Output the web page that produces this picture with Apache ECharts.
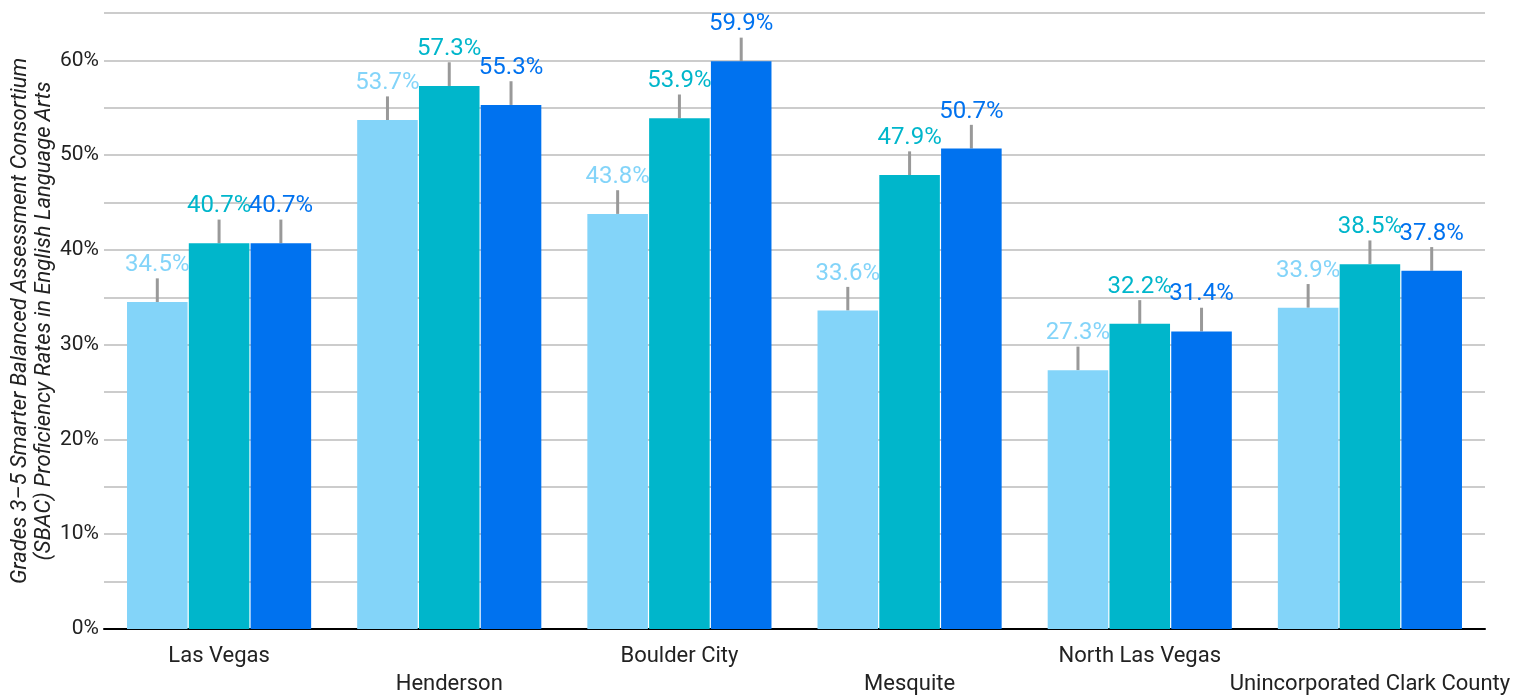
<!DOCTYPE html>
<html>
<head>
<meta charset="utf-8">
<script src="https://cdn.jsdelivr.net/npm/echarts@6/dist/echarts.min.js"></script>
<style>html,body{margin:0;padding:0;background:#fff;}#chart{width:1529px;height:695px;}</style>
</head>
<body>
<div id="chart"></div>
<script>
const categories = ['Las Vegas', 'Henderson', 'Boulder City', 'Mesquite', 'North Las Vegas', 'Unincorporated Clark County'];
const seriesNames = ['Series 1', 'Series 2', 'Series 3'];
const series1 = [34.5, 53.7, 43.8, 33.6, 27.3, 33.9];
const series2 = [40.7, 57.3, 53.9, 47.9, 32.2, 38.5];
const series3 = [40.7, 55.3, 59.9, 50.7, 31.4, 37.8];
const errors1 = [2.5, 2.5, 2.5, 2.5, 2.5, 2.5];
const errors2 = [2.5, 2.5, 2.5, 2.5, 2.5, 2.5];
const errors3 = [2.5, 2.5, 2.5, 2.5, 2.5, 2.5];
const colors = ['#83d4f9', '#00b6cb', '#0072ef'];

const allValues = [series1, series2, series3];
const allErrors = [errors1, errors2, errors3];
const CAT_GAP = 0.2, BAR_GAP = 0.02;
const FONT = 'Roboto, "Noto Sans", sans-serif';

const chart = echarts.init(document.getElementById('chart'));

const barSeries = allValues.map((vals, s) => ({
  name: seriesNames[s],
  type: 'bar',
  data: vals,
  barGap: (BAR_GAP * 100) + '%',
  barCategoryGap: (CAT_GAP * 100) + '%',
  itemStyle: { color: colors[s] },
  z: 2,
  label: {
    show: true,
    position: 'top',
    distance: 25,
    color: colors[s],
    fontFamily: FONT,
    fontSize: 24,
    formatter: p => p.value.toFixed(1) + '%'
  }
}));

const errSeries = allValues.map((vals, s) => ({
  type: 'custom',
  z: 1,
  silent: true,
  data: vals.map((v, i) => [i, v, v + allErrors[s][i]]),
  renderItem: function (params, api) {
    const band = api.size([1, 0])[0];
    const group = band * (1 - CAT_GAP);
    const bw = group / (3 + 2 * BAR_GAP);
    const off = (s - 1) * bw * (1 + BAR_GAP);
    const p0 = api.coord([api.value(0), api.value(1)]);
    const p1 = api.coord([api.value(0), api.value(2)]);
    const x = p0[0] + off;
    return {
      type: 'line',
      shape: { x1: x, y1: p0[1], x2: x, y2: p1[1] },
      style: { stroke: '#999999', lineWidth: 3 }
    };
  }
}));

chart.setOption({
  animation: false,
  backgroundColor: '#ffffff',
  grid: { left: 104, right: 44, top: 13, bottom: 66, containLabel: false, outerBoundsMode: 'none' },
  xAxis: {
    type: 'category',
    data: categories,
    axisLine: { lineStyle: { color: '#000000', width: 2 } },
    axisTick: { show: false },
    axisLabel: {
      interval: 0,
      fontFamily: FONT,
      fontSize: 22,
      color: '#222222',
      margin: 13,
      lineHeight: 28,
      formatter: (v, i) => (i % 2 === 1 ? '\n' + v : v)
    }
  },
  yAxis: {
    type: 'value',
    min: 0,
    max: 65,
    interval: 5,
    name: 'Grades 3\u20135 Smarter Balanced Assessment Consortium\n(SBAC) Proficiency Rates in English Language Arts',
    nameLocation: 'middle',
    nameGap: 48,
    nameMoveOverlap: false,
    nameTextStyle: { fontFamily: FONT, fontSize: 22, fontStyle: 'italic', color: '#222222', lineHeight: 24 },
    axisLine: { show: false },
    axisTick: { show: false },
    splitLine: { lineStyle: { color: '#cccccc', width: 2 } },
    axisLabel: {
      fontFamily: FONT,
      fontSize: 21,
      color: '#222222',
      margin: 5,
      formatter: v => (v % 10 === 0 ? v + '%' : '')
    }
  },
  series: [...errSeries, ...barSeries]
});
</script>
</body>
</html>
